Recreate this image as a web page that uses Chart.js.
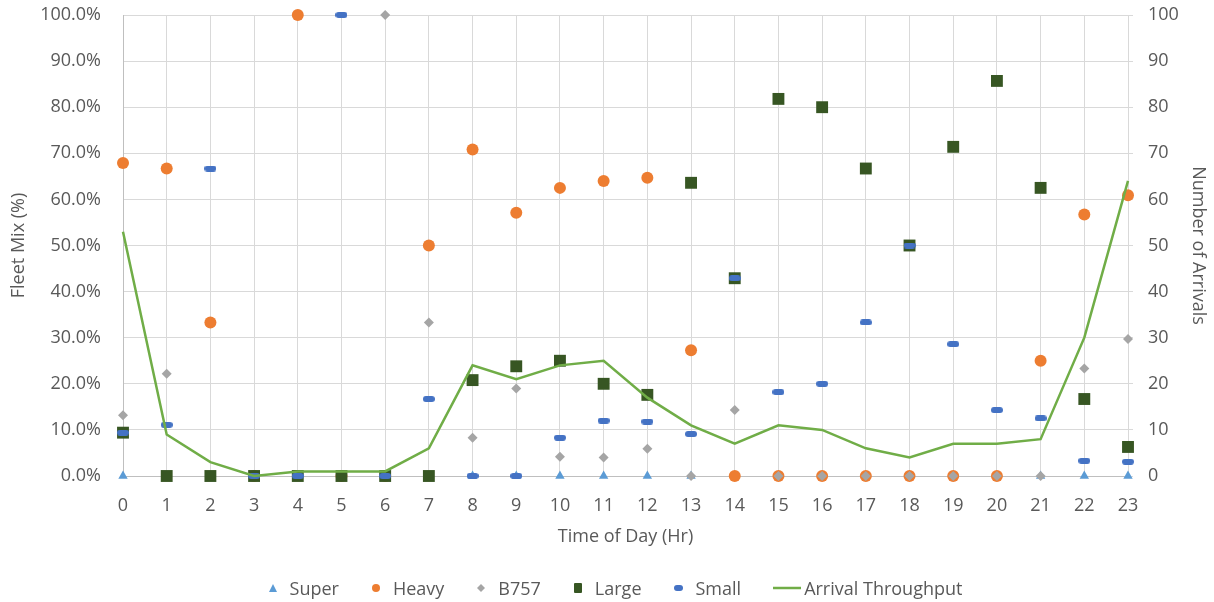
<!DOCTYPE html>
<html>
<head>
<meta charset="utf-8">
<script src="https://cdn.jsdelivr.net/npm/chart.js@4.4.0/dist/chart.umd.min.js"></script>
<style>
  html, body { margin: 0; padding: 0; background: #fff; overflow: hidden; }
  #wrap { position: relative; width: 1214px; height: 602px; }
  #legend {
    position: absolute; left: 16px; top: 576px; width: 1198px; height: 24px;
    display: flex; justify-content: center; align-items: center;
    font-family: 'Open Sans', sans-serif; font-size: 18px; color: #595959;
  }
  .item { display: flex; align-items: center; margin: 0 16px; }
  .item svg { margin-right: 12px; }
  .item.line svg { margin-right: 3px; }
</style>
</head>
<body>
<div id="wrap">
  <canvas id="chart" width="1214" height="602"></canvas>
  <div id="legend"></div>
</div>
<script>
// hours of the day
var hours = ['0','1','2','3','4','5','6','7','8','9','10','11','12','13','14','15','16','17','18','19','20','21','22','23'];

// fleet mix in percent
var superMix = [0,0,0,0,0,0,0,0,0,0,0,0,0,0,0,0,0,0,0,0,0,0,0,0];
var heavyMix = [67.9,66.7,33.3,0,100,0,0,50.0,70.8,57.1,62.5,64.0,64.7,27.3,0,0,0,0,0,0,0,25.0,56.7,60.9];
var b757Mix  = [13.2,22.2,0,0,0,0,100,33.3,8.3,19.0,4.2,4.0,5.9,0,14.3,0,0,0,0,0,0,0,23.3,29.7];
var largeMix = [9.4,0,0,0,0,0,0,0,20.8,23.8,25.0,20.0,17.6,63.6,42.9,81.8,80.0,66.7,50.0,71.4,85.7,62.5,16.7,6.3];
var smallMix = [9.4,11.1,66.7,0,0,100,0,16.7,0,0,8.3,12.0,11.8,9.1,42.9,18.2,20.0,33.3,50.0,28.6,14.3,12.5,3.3,3.1];

// arrivals per hour (right axis)
var arrivals = [53,9,3,0,1,1,1,6,24,21,24,25,17,11,7,11,10,6,4,7,7,8,30,64];

var TEXT = '#595959';
var GRID = '#D9D9D9';

Chart.defaults.font.family = "'Open Sans', sans-serif";
Chart.defaults.font.size = 18;
Chart.defaults.color = TEXT;

// little rounded dash used for the Small series
function dashImage(w, h, color) {
  var c = document.createElement('canvas');
  c.width = w; c.height = h;
  var g = c.getContext('2d');
  g.fillStyle = color;
  g.beginPath();
  g.roundRect(0, 0, w, h, h / 2);
  g.fill();
  return c;
}

function scatterSet(label, data, color, style, radius, order) {
  return {
    label: label,
    data: data,
    yAxisID: 'y',
    showLine: false,
    pointStyle: style,
    pointRadius: radius,
    pointHoverRadius: radius,
    pointBackgroundColor: color,
    pointBorderColor: color,
    pointBorderWidth: 0,
    backgroundColor: color,
    borderColor: color,
    order: order,
    clip: false
  };
}

// fixed axis width, and no extra top padding from the tick padding
function fixWidth(w) {
  return function(s) {
    s.width = w;
    s.paddingTop = 0;
  };
}

var ctx = document.getElementById('chart').getContext('2d');

new Chart(ctx, {
  type: 'line',
  data: {
    labels: hours,
    datasets: [
      scatterSet('Super', superMix, '#5B9BD5', 'triangle', 5.4, 5),
      scatterSet('Heavy', heavyMix, '#ED7D31', 'circle', 6, 4),
      scatterSet('B757', b757Mix, '#A5A5A5', 'rectRot', 5, 3),
      scatterSet('Large', largeMix, '#375623', 'rect', 8.4, 2),
      scatterSet('Small', smallMix, '#4472C4', dashImage(12, 6, '#4472C4'), 6, 1),
      {
        label: 'Arrival Throughput',
        data: arrivals,
        yAxisID: 'y1',
        borderColor: '#70AD47',
        backgroundColor: '#70AD47',
        borderWidth: 2.5,
        pointRadius: 0,
        tension: 0,
        order: 0,
        clip: false
      }
    ]
  },
  options: {
    responsive: false,
    animation: false,
    layout: { padding: { top: 15, bottom: 26, left: 0, right: 0 } },
    plugins: {
      legend: { display: false },
      tooltip: { enabled: false }
    },
    scales: {
      x: {
        type: 'category',
        offset: false,
        grid: { color: GRID, drawTicks: false },
        border: { color: '#BFBFBF' },
        ticks: { padding: 19, autoSkip: false, maxRotation: 0 },
        title: { display: true, text: 'Time of Day (Hr)', padding: { top: 0, bottom: 28 } },
        afterFit: function(s) { s.height = 100; }
      },
      y: {
        position: 'left',
        min: 0,
        max: 100,
        grid: { color: GRID, drawTicks: false },
        border: { color: '#BFBFBF' },
        ticks: {
          stepSize: 10,
          padding: 22,
          callback: function(v) { return v.toFixed(1) + '%'; }
        },
        title: { display: true, text: 'Fleet Mix (%)', padding: { top: 8, bottom: 0 } },
        afterFit: fixWidth(123)
      },
      y1: {
        position: 'right',
        min: 0,
        max: 100,
        grid: { drawOnChartArea: false, color: GRID, tickLength: 5 },
        border: { color: GRID },
        ticks: { stepSize: 10, padding: 15 },
        title: { display: true, text: 'Number of Arrivals', padding: { top: 5, bottom: 0 } },
        afterFit: fixWidth(86)
      }
    }
  }
});

// legend built by hand so the line key can be longer than the point keys
var legendItems = [
  { text: 'Super', svg: '<svg width="10" height="10"><polygon points="5,1 9,9 1,9" fill="#5B9BD5"/></svg>' },
  { text: 'Heavy', svg: '<svg width="10" height="10"><circle cx="5" cy="5" r="4" fill="#ED7D31"/></svg>' },
  { text: 'B757', svg: '<svg width="10" height="10"><polygon points="5,1 9,5 5,9 1,5" fill="#A5A5A5"/></svg>' },
  { text: 'Large', svg: '<svg width="10" height="12"><rect x="1" y="1" width="8" height="10" rx="1" fill="#375623"/></svg>' },
  { text: 'Small', svg: '<svg width="10" height="8"><rect x="0" y="1" width="9" height="6" rx="3" fill="#4472C4"/></svg>' },
  { text: 'Arrival Throughput', svg: '<svg width="28" height="6"><line x1="0" y1="3" x2="28" y2="3" stroke="#70AD47" stroke-width="2.5"/></svg>', line: true }
];
var legendHtml = '';
legendItems.forEach(function(it) {
  legendHtml += '<span class="item' + (it.line ? ' line' : '') + '">' + it.svg + '<span>' + it.text + '</span></span>';
});
document.getElementById('legend').innerHTML = legendHtml;
</script>
</body>
</html>
